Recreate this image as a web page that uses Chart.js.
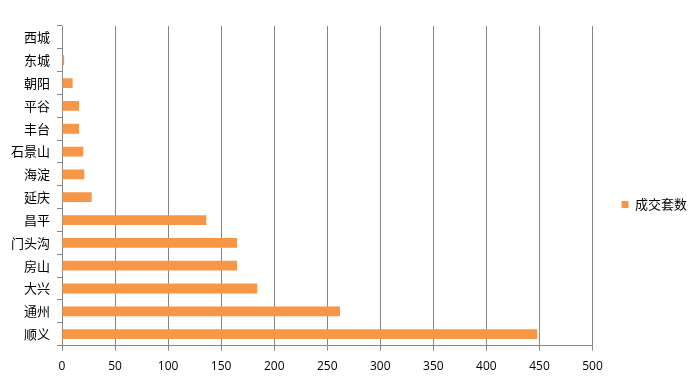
<!DOCTYPE html>
<html>
<head>
<meta charset="utf-8">
<script src="https://cdn.jsdelivr.net/npm/chart.js@4/dist/chart.umd.min.js"></script>
<style>
  html, body { margin: 0; padding: 0; background: #fff; }
  #wrap { width: 697px; height: 383px; position: relative; }
</style>
</head>
<body>
<div id="wrap"><canvas id="chart"></canvas></div>
<script>
const districts = ["西城", "东城", "朝阳", "平谷", "丰台", "石景山", "海淀", "延庆", "昌平", "门头沟", "房山", "大兴", "通州", "顺义"]
const deals = [0, 2, 10, 16, 16, 20, 21, 28, 136, 165, 165, 184, 262, 448]
const seriesName = "成交套数"
const xTicks = [0, 50, 100, 150, 200, 250, 300, 350, 400, 450, 500]

const gridColor = "#868686"

new Chart(document.getElementById("chart"), {
  type: "bar",
  data: {
    labels: districts,
    datasets: [
      {
        label: seriesName,
        data: deals,
        backgroundColor: "#F79646",
        barPercentage: 0.43,
        categoryPercentage: 1
      }
    ]
  },
  options: {
    indexAxis: "y",
    animation: false,
    responsive: true,
    maintainAspectRatio: false,
    layout: { padding: { top: 26, left: 4, right: 0, bottom: 0 } },
    plugins: {
      legend: {
        position: "right",
        labels: {
          boxWidth: 7,
          boxHeight: 7,
          padding: 29,
          color: "#000",
          font: { family: "'Noto Sans CJK SC'", size: 13 }
        }
      },
      tooltip: { enabled: false }
    },
    scales: {
      x: {
        min: 0,
        max: 500,
        afterBuildTicks: (axis) => { axis.ticks = xTicks.map(v => ({ value: v })) },
        grid: { color: gridColor, tickLength: 5, drawTicks: true },
        border: { color: gridColor },
        ticks: { color: "#000", padding: 9, maxRotation: 0, font: { family: "'Open Sans'", size: 12 } }
      },
      y: {
        grid: { offset: true, drawOnChartArea: false, color: gridColor, tickLength: 5 },
        border: { color: gridColor },
        ticks: { color: "#000", padding: 7, font: { family: "'Noto Sans CJK SC'", size: 13 } }
      }
    }
  }
})
</script>
</body>
</html>
